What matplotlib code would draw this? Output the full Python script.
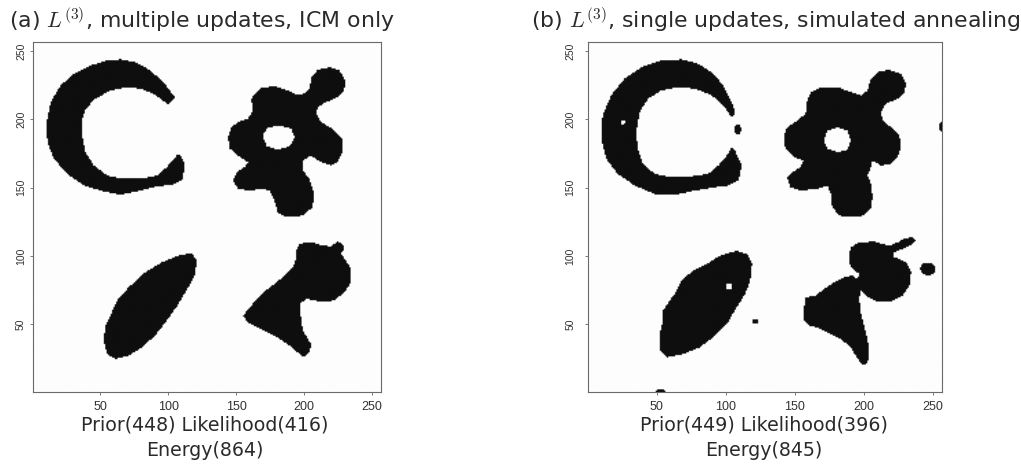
import numpy as np
import matplotlib
matplotlib.use("Agg")
import matplotlib.pyplot as plt
from matplotlib.path import Path
from matplotlib.colors import ListedColormap

plt.rcParams["font.family"] = ["DejaVu Sans"]
plt.rcParams["mathtext.fontset"] = "cm"

GRID = 256
TICKS = [50, 100, 150, 200, 250]

# ---- panel (a): ICM segmentation, outlines in pixel units ----
a_ring = [(104.7, 215.5), (96.2, 226.5), (86.5, 235.0), (76.8, 240.7), (64.6, 243.1),
          (54.9, 242.3), (42.7, 238.7), (30.5, 232.6), (20.8, 224.1), (13.5, 211.9),
          (10.6, 197.3), (11.1, 182.7), (15.9, 170.6), (25.7, 159.6), (37.8, 151.1),
          (52.4, 146.7), (64.6, 144.5), (79.2, 147.4), (91.4, 150.4), (103.5, 151.8),
          (110.8, 155.5), (111.3, 168.1), (108.4, 174.2), (106.0, 173.0), (98.7, 164.5),
          (91.4, 158.4), (79.2, 156.0), (67.0, 156.0), (54.9, 158.4), (45.1, 165.7),
          (39.1, 175.4), (36.6, 187.6), (36.6, 199.8), (39.1, 207.1), (46.4, 214.4),
          (57.3, 220.4), (69.5, 222.8), (79.2, 221.7), (88.9, 218.0), (99.9, 210.0)]
a_gear = [(161.9, 216.8), (168.0, 222.4), (177.7, 223.4), (186.3, 220.9), (192.3, 218.0),
          (198.4, 217.5), (203.3, 221.7), (205.0, 230.1), (209.3, 235.5), (217.9, 237.4),
          (225.2, 235.0), (229.6, 227.7), (228.8, 220.4), (223.9, 215.5), (215.5, 211.9),
          (209.3, 208.2), (208.2, 203.4), (211.8, 197.3), (220.3, 192.5), (227.6, 185.2),
          (227.6, 175.4), (223.9, 168.1), (219.1, 165.7), (211.8, 168.1), (204.5, 173.0),
          (198.4, 169.3), (198.4, 162.0), (203.3, 156.0), (206.9, 145.3), (205.5, 135.0),
          (198.2, 129.2), (186.3, 128.0), (179.9, 131.6), (177.7, 140.1), (174.1, 147.4),
          (169.2, 148.7), (158.2, 147.4), (150.9, 148.9), (147.3, 154.7), (149.8, 160.8),
          (155.8, 164.5), (158.2, 168.1), (150.9, 173.0), (144.9, 177.9), (143.6, 186.4),
          (146.1, 193.6), (150.9, 197.3), (158.2, 199.8), (161.9, 205.8), (160.7, 213.1)]
a_gear_hole = [(169.0, 187.6), (172.6, 193.4), (181.4, 194.9), (190.1, 192.7),
               (192.3, 186.1), (188.7, 179.6), (179.9, 177.4), (171.9, 179.6)]
a_oval = [(116.9, 101.7), (120.6, 96.4), (119.3, 86.6), (114.5, 76.9), (107.2, 64.7),
          (98.7, 52.6), (90.1, 41.6), (80.4, 33.1), (70.7, 27.0), (60.9, 24.6),
          (54.9, 28.2), (52.4, 38.0), (53.6, 48.9), (57.3, 56.2), (62.2, 67.2),
          (70.7, 76.9), (82.8, 87.8), (95.0, 95.1), (107.2, 100.0)]
a_boot = [(193.6, 103.6), (196.0, 108.5), (200.9, 109.7), (206.9, 109.3), (213.0, 107.3),
          (219.1, 106.8), (223.9, 110.2), (227.6, 108.5), (228.8, 104.9), (226.4, 101.2),
          (230.1, 96.4), (233.7, 90.3), (233.7, 80.5), (228.8, 73.2), (221.5, 67.2),
          (211.8, 66.4), (200.9, 68.4), (196.0, 64.7), (197.2, 53.8), (198.4, 45.3),
          (204.5, 35.5), (203.3, 29.4), (199.6, 25.8), (196.0, 28.2), (188.7, 34.3),
          (177.7, 41.6), (168.0, 46.5), (158.2, 51.3), (154.6, 56.2), (160.7, 63.5),
          (168.0, 72.0), (177.7, 79.3), (185.0, 85.4), (191.1, 91.5), (193.6, 97.6)]

# ---- panel (b): simulated annealing segmentation ----
b_ring = [(105.7, 201.0), (106.9, 205.8), (103.3, 214.4), (98.4, 224.1), (91.1, 232.6),
          (80.2, 239.9), (68.1, 243.1), (53.6, 242.3), (39.1, 237.4), (26.9, 229.0),
          (17.2, 216.8), (11.1, 202.2), (10.0, 185.2), (13.6, 170.6), (22.0, 159.6),
          (34.2, 151.1), (48.7, 145.0), (63.3, 144.3), (77.8, 147.4), (92.4, 149.9),
          (102.0, 151.1), (109.3, 154.7), (111.8, 165.7), (109.3, 170.6), (106.9, 176.6),
          (104.5, 179.1), (100.9, 173.0), (94.8, 165.7), (87.5, 159.6), (75.4, 157.9),
          (60.9, 157.2), (48.7, 159.6), (40.2, 166.9), (36.6, 177.9), (35.4, 190.0),
          (37.8, 204.6), (43.9, 214.4), (53.6, 220.4), (65.7, 222.8), (77.8, 221.7),
          (90.0, 216.8), (98.4, 209.5), (103.3, 202.2)]
b_gear = [(161.5, 219.2), (168.7, 222.8), (180.9, 222.8), (190.5, 219.2), (197.8, 216.8),
          (202.7, 220.4), (205.1, 229.0), (210.0, 233.8), (218.4, 235.5), (226.9, 232.6),
          (230.5, 225.3), (229.3, 219.2), (224.5, 214.4), (216.0, 210.7), (212.4, 204.6),
          (213.6, 198.5), (219.6, 193.6), (225.7, 187.6), (226.9, 179.1), (224.5, 171.8),
          (219.6, 166.9), (212.4, 165.7), (206.3, 169.3), (205.1, 164.5), (202.7, 158.4),
          (205.1, 152.3), (206.3, 142.6), (205.1, 134.1), (200.2, 129.2), (190.5, 128.0),
          (182.0, 129.2), (177.2, 135.3), (176.0, 145.0), (173.6, 151.1), (166.3, 148.7),
          (154.2, 147.4), (146.9, 149.9), (144.5, 157.2), (148.1, 160.8), (154.2, 164.5),
          (156.6, 169.3), (149.3, 171.8), (143.3, 177.9), (142.0, 186.4), (144.5, 193.6),
          (151.8, 198.5), (157.8, 203.4), (159.1, 213.1)]
b_gear_hole = [(171.1, 183.9), (173.6, 191.2), (180.9, 193.6), (188.1, 191.2),
               (190.5, 183.9), (188.1, 177.1), (180.9, 175.4), (173.6, 177.9)]
b_oval = [(108.1, 103.6), (115.4, 101.2), (119.1, 93.9), (117.8, 81.8), (114.2, 72.0),
          (108.1, 62.3), (100.9, 50.1), (91.1, 40.4), (81.5, 33.1), (69.3, 28.2),
          (57.2, 25.8), (52.4, 30.7), (52.4, 42.8), (54.8, 52.6), (54.8, 59.9),
          (59.6, 67.2), (63.3, 72.0), (68.1, 81.8), (76.6, 89.1), (86.3, 93.9),
          (96.0, 100.0)]
b_split = [(189.3, 100.0), (190.5, 105.8), (196.6, 109.7), (207.5, 110.2), (213.6, 108.5),
           (218.4, 107.3), (224.5, 109.7), (229.3, 112.2), (234.5, 113.4), (237.8, 111.5),
           (233.5, 107.5), (226.9, 104.4), (222.0, 102.4), (221.1, 99.3), (230.5, 95.1),
           (234.2, 87.8), (232.9, 78.1), (228.1, 70.8), (219.6, 66.4), (210.0, 66.4),
           (202.7, 69.6), (197.8, 74.5), (196.6, 68.4), (197.8, 58.6), (200.2, 48.9),
           (202.7, 39.2), (203.9, 29.4), (202.7, 21.5), (199.1, 20.0), (195.4, 25.0),
           (190.5, 33.1), (183.3, 39.2), (173.6, 44.0), (166.3, 47.7), (160.2, 48.9),
           (156.6, 52.6), (156.6, 61.1), (157.8, 69.6), (165.1, 70.8), (171.1, 75.7),
           (178.4, 80.5), (185.7, 84.2), (191.8, 85.4), (195.4, 83.0), (196.6, 86.6),
           (191.8, 90.3), (189.3, 95.1)]
# isolated specks: (centre x, centre y, radius x, radius y)
b_spots = [(108.9, 192.0, 2.5, 3.5), (121.5, 52.0, 2.0, 2.0),
           (246.3, 90.3, 5.5, 4.7), (256.0, 194.0, 1.8, 3.5), (53.0, 1.0, 3.0, 1.5)]
b_pinholes = [(25.7, 197.3, 1.6, 1.6), (102.5, 77.4, 2.5, 2.0)]

titles = [r"(a) $L^{(3)}$, multiple updates, ICM only",
          r"(b) $L^{(3)}$, single updates, simulated annealing"]
summaries = [("Prior(448) Likelihood(416)", "Energy(864)"),
             ("Prior(449) Likelihood(396)", "Energy(845)")]


def label_image(regions, holes=(), spots=(), pinholes=()):
    """Rasterise outlines onto a GRID x GRID label image (1 = object)."""
    c = np.arange(1, GRID + 1)
    gx, gy = np.meshgrid(c, c)
    pts = np.column_stack([gx.ravel(), gy.ravel()])
    mask = np.zeros(GRID * GRID, dtype=bool)
    for poly in regions:
        mask |= Path(poly).contains_points(pts)
    for poly in holes:
        mask &= ~Path(poly).contains_points(pts)
    fx, fy = pts[:, 0], pts[:, 1]
    for cx, cy, rx, ry in spots:
        mask |= ((fx - cx) / rx) ** 2 + ((fy - cy) / ry) ** 2 <= 1
    for cx, cy, rx, ry in pinholes:
        mask &= ~(((fx - cx) / rx) ** 2 + ((fy - cy) / ry) ** 2 <= 1)
    return mask.reshape(GRID, GRID).astype(float)


images = [
    label_image([a_ring, a_gear, a_oval, a_boot], [a_gear_hole]),
    label_image([b_ring, b_gear, b_oval, b_split], [b_gear_hole], b_spots, b_pinholes),
]

fig = plt.figure(figsize=(10.21, 4.66), dpi=100)
fig.patch.set_facecolor("white")
cmap = ListedColormap(["#fdfdfd", "#0e0e0e"])

ax_rects = [(0.0323, 0.1588, 0.3409, 0.7511), (0.5762, 0.1588, 0.3461, 0.7511)]
ypads = [2.5, 7]
title_x = [0.198, 0.7596]
summary_x = [0.2008, 0.748]

for i in range(2):
    ax = fig.add_axes(ax_rects[i])
    ax.imshow(images[i], cmap=cmap, origin="lower", aspect="auto",
              extent=(0.5, GRID + 0.5, 0.5, GRID + 0.5), interpolation="bilinear",
              vmin=0, vmax=1)
    ax.set_xlim(0.5, GRID + 0.5)
    ax.set_ylim(0.5, GRID + 0.5)
    ax.set_xticks(TICKS)
    ax.set_yticks(TICKS)
    ax.set_xticklabels([str(t) for t in TICKS], fontsize=9, family="Liberation Sans",
                       color="#333333")
    ax.set_yticklabels([str(t) for t in TICKS], fontsize=7.5, family="Liberation Sans",
                       rotation=90, va="center", color="#333333")
    ax.tick_params(axis="x", length=2.5, width=0.6, pad=4, colors="#666666",
                   labelcolor="#333333")
    ax.tick_params(axis="y", length=2.5, width=0.6, pad=ypads[i], colors="#666666",
                   labelcolor="#333333")
    for s in ax.spines.values():
        s.set_color("#6a6a6a")
        s.set_linewidth(0.8)

    fig.text(title_x[i], 0.957, titles[i], ha="center", va="center", fontsize=15.8,
             color="#2a2a2a")
    fig.text(summary_x[i], 0.088, summaries[i][0], ha="center", va="center",
             fontsize=13.7, color="#2a2a2a")
    fig.text(summary_x[i], 0.034, summaries[i][1], ha="center", va="center",
             fontsize=13.7, color="#2a2a2a")

fig.savefig("out.png", dpi=100, facecolor="white")
